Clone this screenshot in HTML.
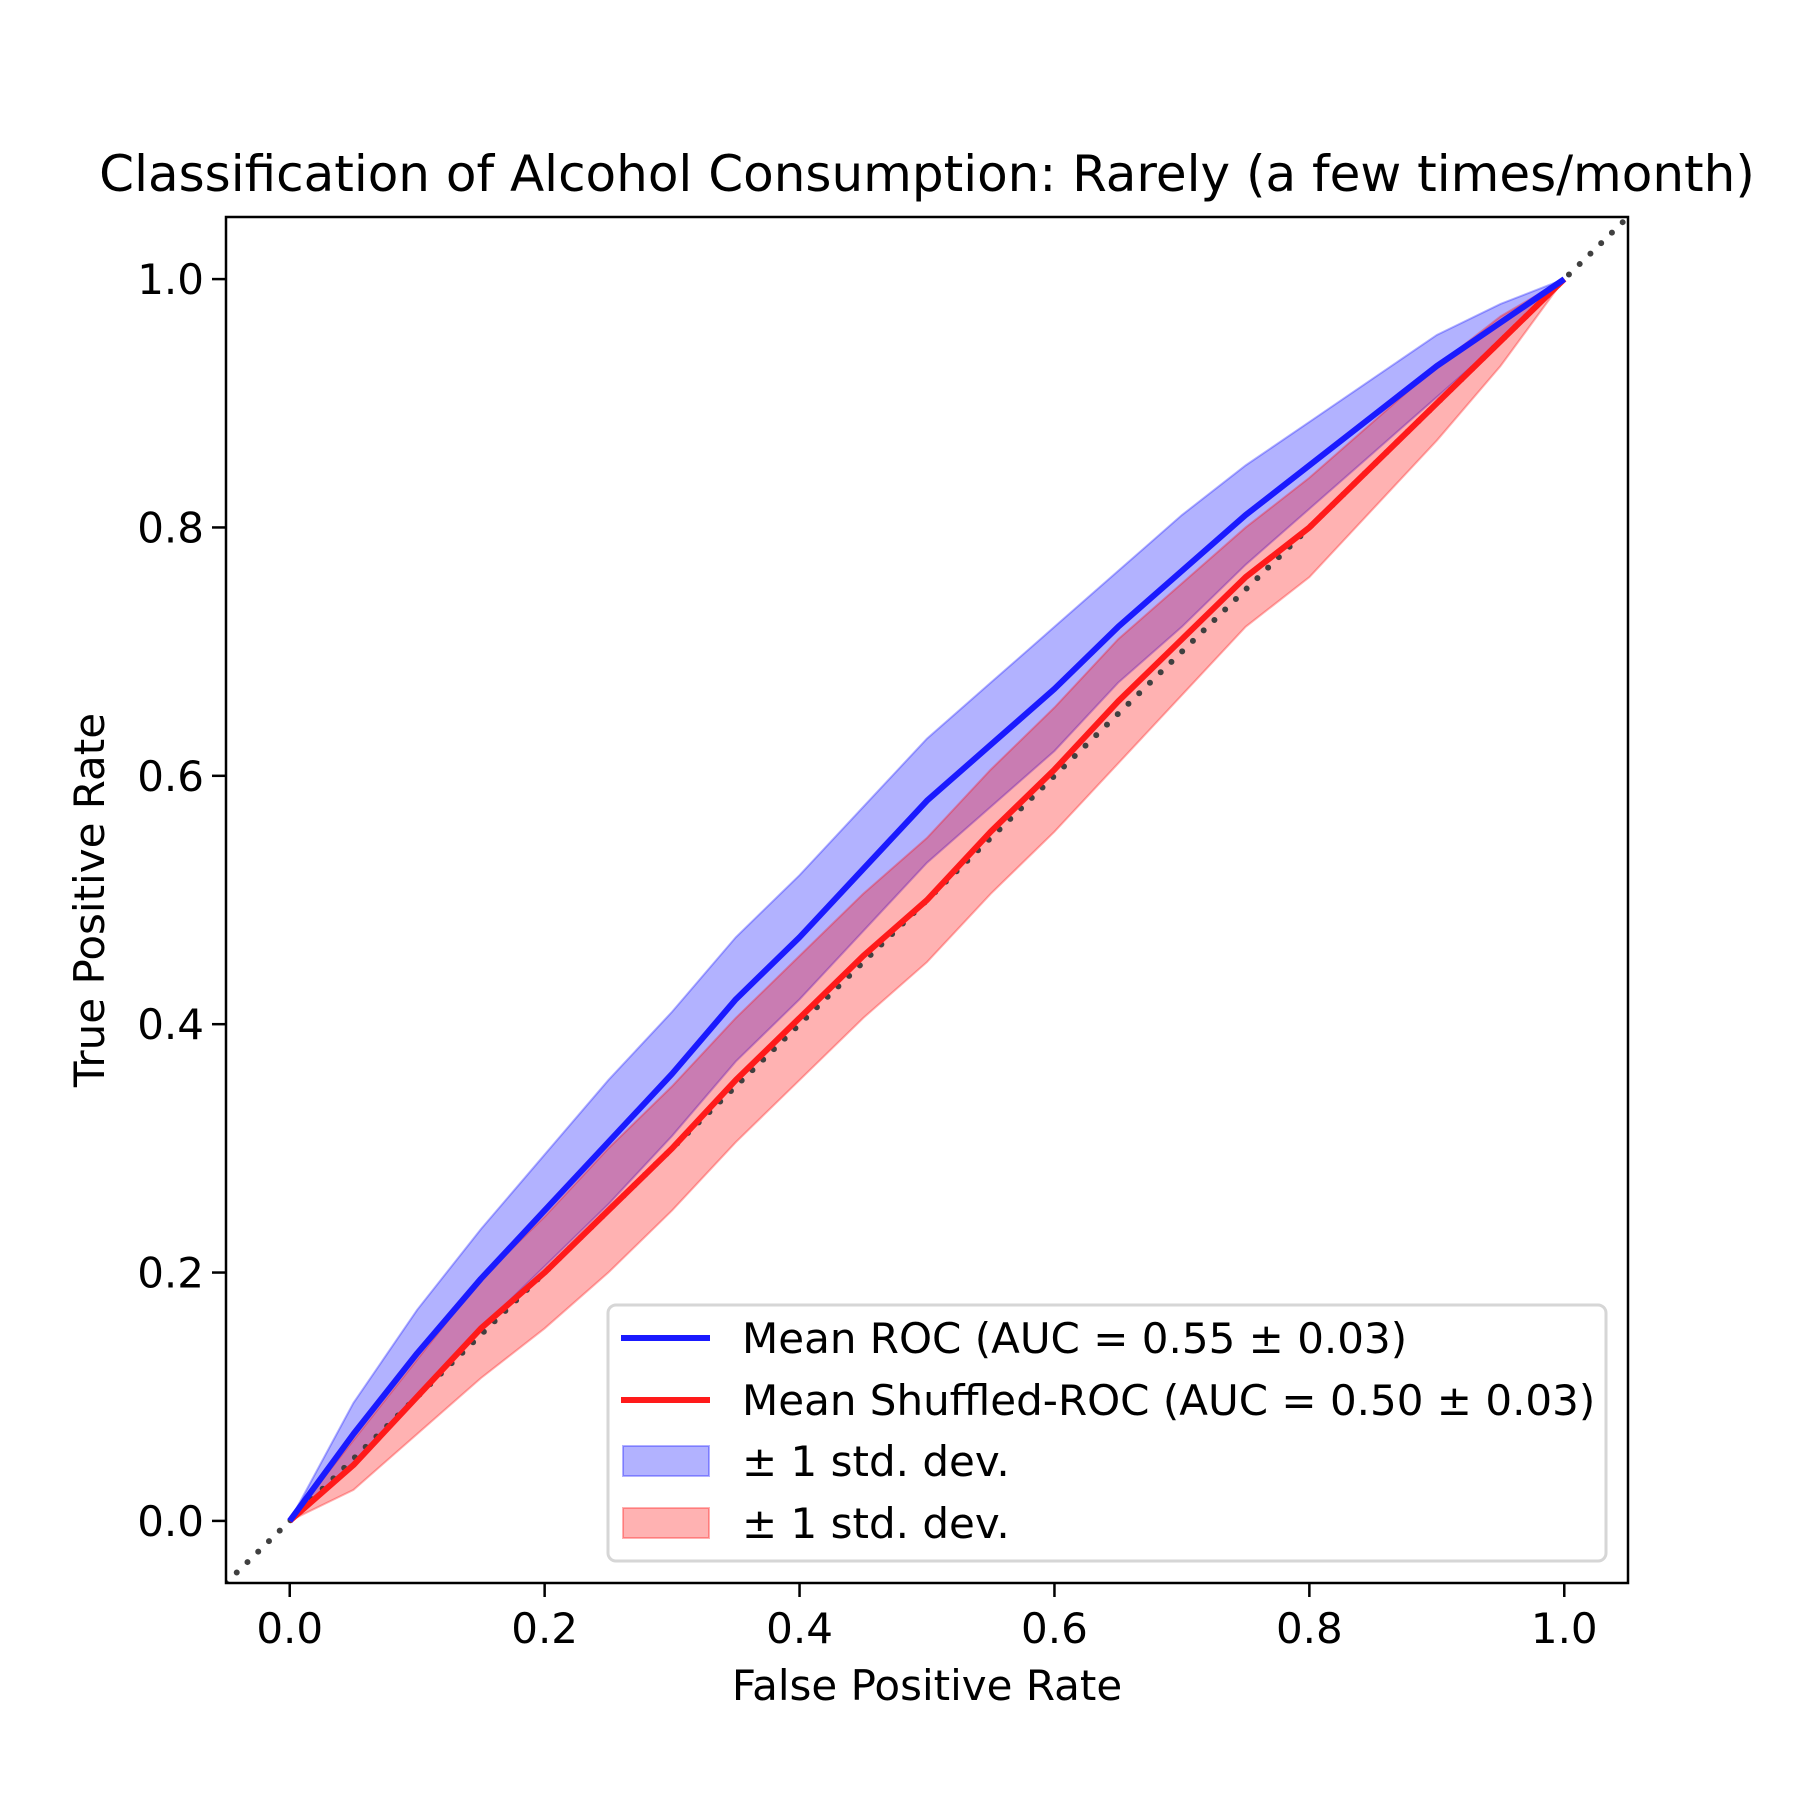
<!DOCTYPE html>
<html><head><meta charset="utf-8"><style>
html,body{margin:0;padding:0;background:#fff}
svg text{font-family:"DejaVu Sans","Liberation Sans",sans-serif;fill:#000}
</style></head><body>
<svg id="chart" width="1800" height="1800" viewBox="0 0 1800 1800" xmlns="http://www.w3.org/2000/svg">
<defs><clipPath id="clip"><rect x="226" y="217" width="1402" height="1366"/></clipPath></defs>
<text x="927" y="191" font-size="50" text-anchor="middle">Classification of Alcohol Consumption: Rarely (a few times/month)</text>
<g id="plot" clip-path="url(#clip)"></g>
<rect x="226" y="217" width="1402" height="1366" fill="none" stroke="#000" stroke-width="2.5"/>
<g id="ticks"></g>
<text x="927" y="1700" font-size="42" text-anchor="middle">False Positive Rate</text>
<text transform="translate(104,900) rotate(-90)" font-size="42" text-anchor="middle">True Positive Rate</text>
<g>
<rect x="608" y="1305" width="998" height="256" rx="8" fill="#fff" fill-opacity="0.8" stroke="#d6d6d6" stroke-width="3"/>
<line x1="621" y1="1338" x2="710" y2="1338" stroke="rgb(26,26,255)" stroke-width="6"/>
<text x="742" y="1353" font-size="42">Mean ROC (AUC = 0.55 ± 0.03)</text>
<line x1="621" y1="1400" x2="710" y2="1400" stroke="rgb(255,26,26)" stroke-width="6"/>
<text x="742" y="1415" font-size="42">Mean Shuffled-ROC (AUC = 0.50 ± 0.03)</text>
<rect x="623" y="1446" width="86" height="30" fill="rgba(0,0,255,0.3)" stroke="rgba(0,0,255,0.3)" stroke-width="2"/>
<text x="742" y="1476" font-size="42">± 1 std. dev.</text>
<rect x="623" y="1508" width="86" height="30" fill="rgba(255,0,0,0.3)" stroke="rgba(255,0,0,0.3)" stroke-width="2"/>
<text x="742" y="1538" font-size="42">± 1 std. dev.</text>
</g>
</svg>
<script>
const fprGrid=[0,0.05,0.1,0.15,0.2,0.25,0.3,0.35,0.4,0.45,0.5,0.55,0.6,0.65,0.7,0.75,0.8,0.85,0.9,0.95,1];
const meanTpr=[0,0.07,0.135,0.195,0.25,0.305,0.36,0.42,0.47,0.525,0.58,0.625,0.67,0.72,0.765,0.81,0.85,0.89,0.93,0.965,1];
const meanTprStd=[0,0.025,0.035,0.04,0.045,0.05,0.05,0.05,0.05,0.05,0.05,0.05,0.05,0.045,0.045,0.04,0.035,0.03,0.025,0.015,0];
const shuffledTpr=[0,0.045,0.10,0.155,0.20,0.25,0.30,0.355,0.405,0.455,0.50,0.555,0.605,0.66,0.71,0.76,0.80,0.85,0.90,0.95,1];
const shuffledTprStd=[0,0.02,0.03,0.04,0.045,0.05,0.05,0.05,0.05,0.05,0.05,0.05,0.05,0.05,0.045,0.04,0.04,0.035,0.03,0.02,0];
const tickValues=[0,0.2,0.4,0.6,0.8,1.0];
const tickLabels=["0.0","0.2","0.4","0.6","0.8","1.0"];

const L=226,R=1628,T=217,B=1583;
const xs=v=>L+(v+0.05)/1.1*(R-L);
const ys=v=>B-(v+0.05)/1.1*(B-T);
const NS="http://www.w3.org/2000/svg";
const plot=document.getElementById('plot');
const ticks=document.getElementById('ticks');
function mk(tag,attrs,parent){const e=document.createElementNS(NS,tag);for(const k in attrs)e.setAttribute(k,attrs[k]);parent.appendChild(e);return e;}

function band(mean,std,color,name){
  let d='';
  fprGrid.forEach((x,i)=>{d+=(i?'L':'M')+xs(x)+','+ys(Math.min(1,mean[i]+std[i]));});
  for(let i=fprGrid.length-1;i>=0;i--)d+='L'+xs(fprGrid[i])+','+ys(Math.max(0,mean[i]-std[i]));
  const p=mk('path',{d:d+'Z',fill:color,'fill-opacity':0.3,stroke:color,'stroke-opacity':0.3,'stroke-width':2},plot);
  
  
}
function line(vals,color,name){
  const pts=fprGrid.map((x,i)=>xs(x)+','+ys(vals[i])).join(' ');
  const p=mk('polyline',{points:pts,fill:'none',stroke:color,'stroke-width':6,'stroke-linejoin':'round'},plot);
  
  
}
band(meanTpr,meanTprStd,'rgb(0,0,255)','mean-roc-std-band');
band(shuffledTpr,shuffledTprStd,'rgb(255,0,0)','shuffled-roc-std-band');
const diag=mk('line',{x1:xs(-0.05),y1:ys(-0.05),x2:xs(1.05),y2:ys(1.05),stroke:'#404040','stroke-width':6,'stroke-dasharray':'0 15','stroke-linecap':'round'},plot);


line(shuffledTpr,'rgb(255,26,26)','shuffled-roc-line');
line(meanTpr,'rgb(26,26,255)','mean-roc-line');

tickValues.forEach((v,i)=>{
  const tx=mk('line',{x1:xs(v),y1:B,x2:xs(v),y2:B+14,stroke:'#000','stroke-width':2.5},ticks);
  
  
  const lx=mk('text',{x:xs(v),y:B+60,'font-size':42,'text-anchor':'middle'},ticks);
  lx.textContent=tickLabels[i];
  
  
  const ty=mk('line',{x1:L-14,y1:ys(v),x2:L,y2:ys(v),stroke:'#000','stroke-width':2.5},ticks);
  
  
  const ly=mk('text',{x:L-22,y:ys(v)+15,'font-size':42,'text-anchor':'end'},ticks);
  ly.textContent=tickLabels[i];
  
  
});
</script>
</body></html>
